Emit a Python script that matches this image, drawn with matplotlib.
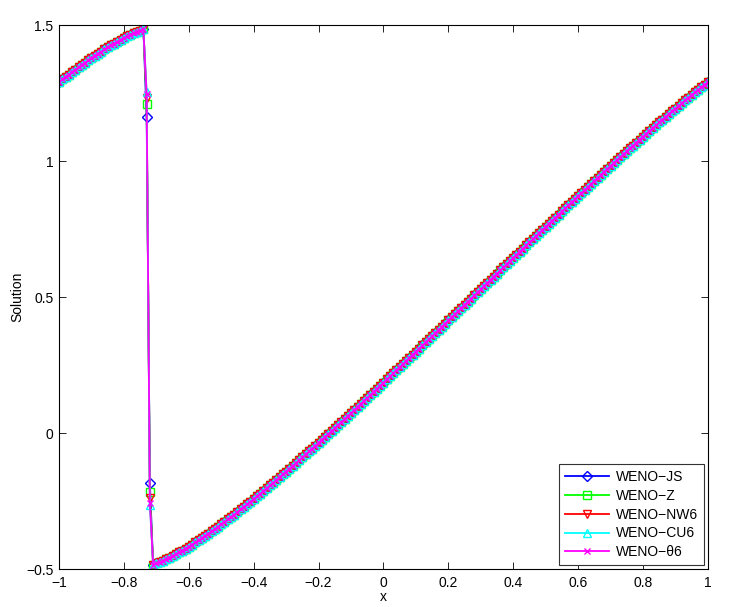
import numpy as np
import matplotlib
matplotlib.use("Agg")
from matplotlib import pyplot as plt

plt.rcParams['font.family'] = ['Liberation Sans', 'DejaVu Sans']
plt.rcParams['axes.unicode_minus'] = True

# grid x = -1 : 0.01 : 1
x = np.linspace(-1.0, 1.0, 201)

# smooth part left of the shock (x = -1.00 ... -0.74)
u_left = [1.290, 1.300, 1.309, 1.318, 1.327, 1.336, 1.344, 1.354, 1.362, 1.370,
          1.378, 1.387, 1.395, 1.402, 1.410, 1.418, 1.425, 1.432, 1.439, 1.446,
          1.452, 1.458, 1.464, 1.470, 1.475, 1.479, 1.484]

# smooth part right of the shock (x = -0.71 ... 1.00)
u_right = [-0.484, -0.479, -0.475, -0.470, -0.464, -0.458, -0.452, -0.446, -0.439, -0.432,
           -0.425, -0.418, -0.410, -0.402, -0.395, -0.387, -0.378, -0.370, -0.362, -0.354,
           -0.345, -0.336, -0.327, -0.318, -0.309, -0.300, -0.290, -0.281, -0.271, -0.262,
           -0.252, -0.243, -0.233, -0.223, -0.213, -0.203, -0.193, -0.183, -0.173, -0.162,
           -0.152, -0.142, -0.131, -0.121, -0.111, -0.100, -0.090, -0.079, -0.068, -0.057,
           -0.047, -0.036, -0.025, -0.014, -0.004, 0.007, 0.018, 0.029, 0.040, 0.051,
           0.062, 0.073, 0.085, 0.096, 0.107, 0.118, 0.129, 0.140, 0.152, 0.163,
           0.174, 0.185, 0.197, 0.208, 0.219, 0.231, 0.242, 0.253, 0.265, 0.276,
           0.288, 0.299, 0.310, 0.322, 0.333, 0.345, 0.356, 0.368, 0.379, 0.391,
           0.402, 0.414, 0.425, 0.437, 0.448, 0.460, 0.471, 0.483, 0.494, 0.506,
           0.517, 0.529, 0.540, 0.552, 0.563, 0.575, 0.586, 0.598, 0.609, 0.621,
           0.632, 0.644, 0.655, 0.667, 0.678, 0.690, 0.701, 0.712, 0.724, 0.735,
           0.747, 0.758, 0.769, 0.781, 0.792, 0.803, 0.815, 0.826, 0.837, 0.848,
           0.860, 0.871, 0.882, 0.893, 0.904, 0.915, 0.927, 0.938, 0.949, 0.960,
           0.971, 0.982, 0.993, 1.004, 1.014, 1.025, 1.036, 1.047, 1.057, 1.068,
           1.079, 1.090, 1.100, 1.111, 1.121, 1.131, 1.142, 1.152, 1.162, 1.173,
           1.183, 1.193, 1.203, 1.213, 1.223, 1.233, 1.243, 1.252, 1.262, 1.271,
           1.281, 1.290]

# the two cells inside the shock (x = -0.73, -0.72) for each scheme
shock_js = [1.163, -0.185]
shock_z = [1.210, -0.218]
shock_nw6 = [1.230, -0.240]
shock_cu6 = [1.255, -0.265]
shock_t6 = [1.248, -0.258]

names = ['WENO\u2212JS', 'WENO\u2212Z', 'WENO\u2212NW6', 'WENO\u2212CU6', 'WENO\u2212\u03b86']
shocks = [shock_js, shock_z, shock_nw6, shock_cu6, shock_t6]
colors = ['#0000ff', '#00ff00', '#ff0000', '#00ffff', '#ff00ff']
markers = ['D', 's', 'v', '^', 'x']
msizes = [5.0, 5.5, 6.0, 6.0, 5.0]

fig = plt.figure(figsize=(7.29, 6.07), dpi=100)
ax = fig.add_axes([0.081, 0.0626, 0.890, 0.8962])

for name, sh, c, m, ms in zip(names, shocks, colors, markers, msizes):
    u = np.array(u_left + sh + u_right)
    ax.plot(x, u, color=c, marker=m, markersize=ms, markerfacecolor='none',
            markeredgecolor=c, markeredgewidth=1.0, linewidth=1.3, label=name)

ax.set_xlim(-1, 1)
ax.set_ylim(-0.5, 1.5)
xt = np.arange(-1, 1.01, 0.2)
ax.set_xticks(xt)
ax.set_xticklabels(['\u22121', '\u22120.8', '\u22120.6', '\u22120.4', '\u22120.2',
                    '0', '0.2', '0.4', '0.6', '0.8', '1'])
ax.set_yticks([-0.5, 0, 0.5, 1, 1.5])
ax.set_yticklabels(['\u22120.5', '0', '0.5', '1', '1.5'])
ax.tick_params(direction='in', top=True, right=True, length=5, width=0.6,
               labelsize=10)
ax.tick_params(axis='x', pad=5)
ax.tick_params(axis='y', pad=4)
for s in ax.spines.values():
    s.set_linewidth(0.8)

ax.set_xlabel('x', fontsize=10, labelpad=0)
ax.set_ylabel('Solution', fontsize=10, labelpad=1)

leg = ax.legend(loc='lower right', fontsize=10, handlelength=3.2,
                fancybox=False, framealpha=1, edgecolor='#333333',
                borderaxespad=0.3, labelspacing=0.35, handletextpad=0.5,
                borderpad=0.4)
leg.get_frame().set_linewidth(0.8)

fig.savefig('out.png', dpi=100)
